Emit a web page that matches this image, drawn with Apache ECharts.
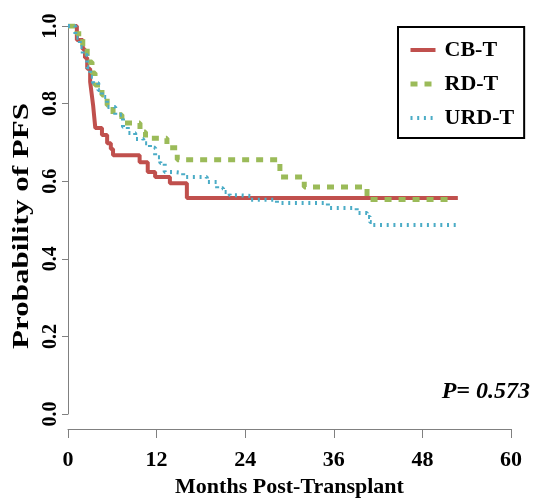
<!DOCTYPE html>
<html><head><meta charset="utf-8">
<script src="https://cdn.jsdelivr.net/npm/echarts@6/dist/echarts.min.js"></script>
<style>html,body{margin:0;padding:0;background:#fff}#c{width:540px;height:498px}</style>
</head><body><div id="c"></div>
<script>
const seriesNames = ['CB-T', 'RD-T', 'URD-T'];
const cbtMonths = [0, 1.2, 2.0, 2.3, 2.6, 3.0, 3.2, 3.4, 3.55, 3.7, 4.6, 5.3, 5.8, 6.1, 9.7, 10.8, 11.8, 13.8, 16.1, 52.8];
const cbtSurv   = [1, 0.964, 0.94, 0.918, 0.89, 0.856, 0.826, 0.796, 0.766, 0.737, 0.719, 0.698, 0.683, 0.667, 0.649, 0.624, 0.611, 0.595, 0.557, 0.557];
const rdtMonths = [0, 1.2, 2.0, 2.6, 3.25, 3.66, 4.6, 5.3, 6.1, 7.3, 9.75, 10.5, 13.4, 14.8, 28.7, 32.0, 40.5, 51.5];
const rdtSurv   = [1, 0.98, 0.943, 0.907, 0.879, 0.848, 0.822, 0.796, 0.771, 0.75, 0.727, 0.711, 0.686, 0.655, 0.611, 0.585, 0.553, 0.553];
const urdMonths = [0, 1.0, 1.6, 2.0, 2.6, 3.0, 3.4, 4.1, 4.6, 5.3, 6.4, 7.45, 8.1, 9.1, 10.2, 11.1, 11.8, 12.5, 13.1, 14.2, 15.6, 18.8, 20.2, 21.0, 21.9, 22.9, 24.7, 28.3, 35.2, 39.1, 40.5, 40.9, 41.3, 52.7];
const urdSurv   = [1, 0.97, 0.946, 0.925, 0.894, 0.869, 0.853, 0.835, 0.817, 0.791, 0.771, 0.74, 0.724, 0.709, 0.698, 0.686, 0.662, 0.647, 0.624, 0.621, 0.611, 0.598, 0.582, 0.572, 0.564, 0.562, 0.552, 0.544, 0.531, 0.518, 0.508, 0.495, 0.487, 0.487];
const xTicks = [0, 12, 24, 36, 48, 60];
const yTicks = [0, 0.2, 0.4, 0.6, 0.8, 1.0];
const xTitle = 'Months Post-Transplant';
const yTitle = 'Probability of PFS';
const pValueText = 'P= 0.573';

const serif = '"Liberation Serif", "Times New Roman", serif';
const zip = (a, b) => a.map((v, i) => [v, b[i]]);
const colors = ['#c0504d', '#9bbb59', '#4bacc6'];
const lineStyles = [
  {width: 4, type: 'solid'},
  {width: 5, type: [7, 7]},
  {width: 4, type: [2, 4.7]}
];

const chart = echarts.init(document.getElementById('c'), null, {renderer: 'canvas'});
chart.setOption({
  animation: false,
  backgroundColor: '#fff',
  grid: {left: 68, right: 29, top: 26, bottom: 84, containLabel: false, outerBoundsMode: 'none'},
  xAxis: {
    type: 'value', min: xTicks[0], max: xTicks[xTicks.length - 1], interval: xTicks[1] - xTicks[0],
    offset: 15,
    axisLine: {show: true, onZero: false, lineStyle: {color: '#808080', width: 1}},
    axisTick: {show: true, length: 9, lineStyle: {color: '#808080'}},
    splitLine: {show: false},
    axisLabel: {color: '#000', fontFamily: serif, fontWeight: 'bold', fontSize: 22, margin: 20},
    name: xTitle, nameLocation: 'middle', nameGap: 47,
    nameTextStyle: {color: '#000', fontFamily: serif, fontWeight: 'bold', fontSize: 22}
  },
  yAxis: {
    type: 'value', min: yTicks[0], max: yTicks[yTicks.length - 1], interval: yTicks[1] - yTicks[0],
    axisLine: {show: true, onZero: false, lineStyle: {color: '#808080', width: 1}},
    axisTick: {show: true, length: 6, lineStyle: {color: '#808080'}},
    splitLine: {show: false},
    axisLabel: {color: '#000', fontFamily: serif, fontWeight: 'bold', fontSize: 20, rotate: 90, margin: 7,
      formatter: v => v.toFixed(1)}
  },
  legend: {
    orient: 'vertical', left: 398, top: 27,
    data: seriesNames.map((n, i) => ({name: n, lineStyle: {color: colors[i], width: lineStyles[i].width, type: lineStyles[i].type}})),
    padding: [12, 10, 9, 10], itemGap: 12, itemWidth: 25, itemHeight: 14,
    borderColor: '#000', borderWidth: 2, backgroundColor: '#fff',
    itemStyle: {opacity: 0},
    textStyle: {color: '#000', fontFamily: serif, fontWeight: 'bold', fontSize: 22, padding: [0, 0, 0, 4]}
  },
  graphic: [
    {type: 'text', x: 22, y: 226, rotation: Math.PI / 2, scaleX: 1.35,
      style: {text: yTitle, fill: '#000', font: 'bold 23px ' + serif, align: 'center', verticalAlign: 'middle'}},
    {type: 'text', x: 530, y: 392,
      style: {text: pValueText, fill: '#000', font: 'italic bold 24px ' + serif, align: 'right', verticalAlign: 'middle'}}
  ],
  series: [
    {name: seriesNames[0], type: 'line', step: 'end', symbol: 'none', data: zip(cbtMonths, cbtSurv),
      color: colors[0], lineStyle: Object.assign({color: colors[0]}, lineStyles[0])},
    {name: seriesNames[1], type: 'line', step: 'end', symbol: 'none', data: zip(rdtMonths, rdtSurv),
      color: colors[1], lineStyle: Object.assign({color: colors[1]}, lineStyles[1])},
    {name: seriesNames[2], type: 'line', step: 'end', symbol: 'none', data: zip(urdMonths, urdSurv),
      color: colors[2], lineStyle: Object.assign({color: colors[2]}, lineStyles[2])}
  ]
});
</script></body></html>
